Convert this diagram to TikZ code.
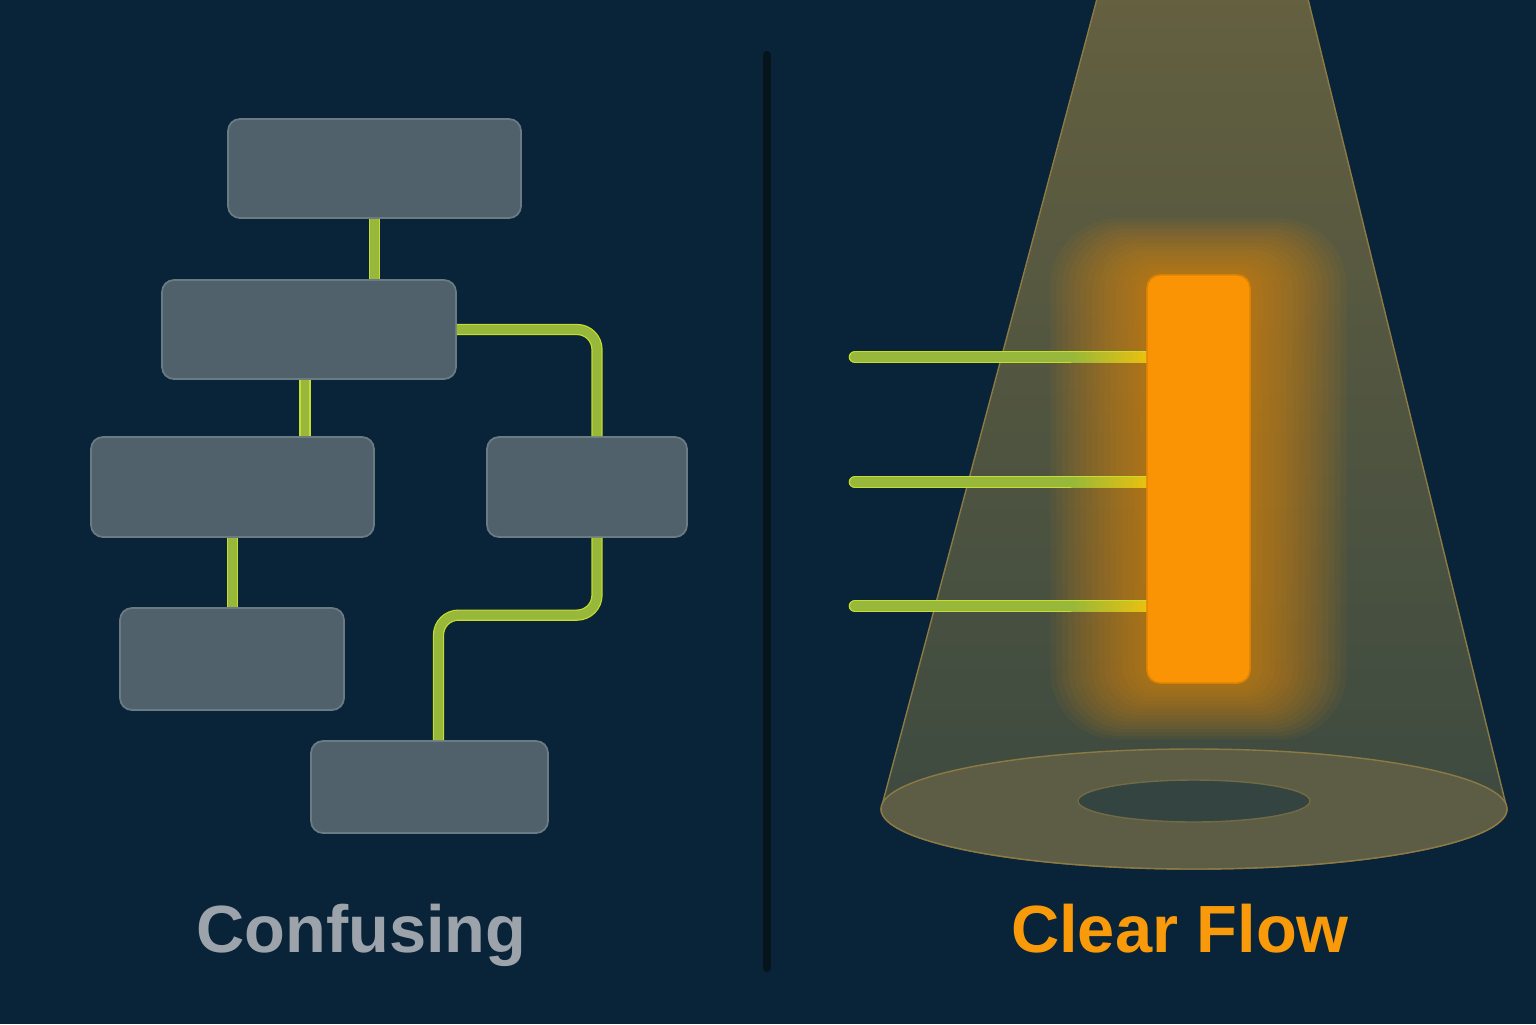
\documentclass[tikz,border=0pt]{standalone}
\usepackage{fontspec}
\setmainfont{Liberation Sans}
\usetikzlibrary{calc}
\definecolor{bg}{HTML}{092338}
\definecolor{boxfill}{HTML}{50616B}
\definecolor{boxedge}{HTML}{6B7B84}
\definecolor{wiregreen}{HTML}{97B83A}
\definecolor{wireedge}{HTML}{C6DC2E}
\definecolor{hot}{HTML}{FB9405}
\definecolor{hotedge}{HTML}{D98205}
\definecolor{divider}{HTML}{06141C}
\definecolor{beamtop}{HTML}{646040}
\definecolor{beambot}{HTML}{3B4940}
\definecolor{beamedge}{HTML}{8C7A45}
\definecolor{pool}{HTML}{5D5C45}
\definecolor{hole}{HTML}{344541}
\definecolor{dimtext}{HTML}{9DA3AB}
\definecolor{hottext}{HTML}{F99A0B}
\definecolor{glint}{HTML}{EAC010}
\tikzset{
  box/.style={draw=boxedge, fill=boxfill, line width=0.5pt, rounded corners=0.12cm, inner sep=0pt},
  wire/.style={draw=wireedge, line width=3.2pt, rounded corners=0.2cm, postaction={draw=wiregreen, line width=2.5pt}},
  ray/.style={draw=wireedge, line width=3.6pt, line cap=round, postaction={draw=wiregreen, line width=2.9pt}},
  heading/.style={font=\bfseries\fontsize{19}{22}\selectfont, anchor=base}
}
\begin{document}
\begin{tikzpicture}
  \fill[bg] (0,0) rectangle (15.36,-10.24);
  \useasboundingbox (0,0) rectangle (15.36,-10.24);

  % left: tangled chart
  \node[box, minimum width=2.93cm, minimum height=0.99cm] (top) at (3.745,-1.685) {};
  \node[box, minimum width=2.94cm, minimum height=0.99cm] (split) at (3.09,-3.295) {};
  \node[box, minimum width=2.83cm, minimum height=1.00cm] (lhs) at (2.325,-4.87) {};
  \node[box, minimum width=2.00cm, minimum height=1.00cm] (rhs) at (5.87,-4.87) {};
  \node[box, minimum width=2.24cm, minimum height=1.02cm] (leaf) at (2.32,-6.59) {};
  \node[box, minimum width=2.37cm, minimum height=0.92cm] (tail) at (4.295,-7.87) {};

  \draw[wire] (top.south) -- (top.south |- split.north);
  \draw[wire] ([xshift=-0.4mm]split.south) -- ([xshift=-0.4mm]split.south |- lhs.north);
  \draw[wire] (split.east) -| ([xshift=1mm]rhs.north);
  \draw[wire] (lhs.south) -- (lhs.south |- leaf.north);
  \draw[wire] ([xshift=1mm]rhs.south) |- ([xshift=0.9mm,yshift=12.5mm]tail.north) -- ([xshift=0.9mm]tail.north);

  \draw[divider, line width=2.3pt, line cap=round] (7.67,-0.55) -- (7.67,-9.68);

  % right: spotlight
  \draw[top color=beamtop, bottom color=beambot, draw=beamedge, line width=0.4pt]
    (10.98,0.05) -- (13.07,0.05) -- (15.07,-8.09)
    arc[start angle=0, end angle=-180, x radius=3.13, y radius=0.6] -- cycle;
  \draw[fill=pool, draw=beamedge, line width=0.4pt] (11.94,-8.09) ellipse (3.13cm and 0.6cm);
  \draw[fill=hole, draw=beamedge!70!hole, line width=0.4pt] (11.94,-8.01) ellipse (1.16cm and 0.21cm);

  \node[draw=hotedge, fill=hot, rounded corners=0.13cm, inner sep=0pt,
        minimum width=1.03cm, minimum height=4.08cm] (bar) at (11.985,-4.79) {};
  \foreach \g in {1,...,16}
    \fill[hot, fill opacity=0.05, rounded corners=0.2cm+\g*0.3mm]
      ($(bar.south west)+(-\g*0.06,-\g*0.035)$) rectangle ($(bar.north east)+(\g*0.06,\g*0.035)$);

  \foreach \y [count=\i] in {-3.57,-4.82,-6.06} {
    \coordinate (in\i) at (8.55,\y);
    \draw[ray] (in\i) -- (in\i -| bar.center);
    \shade[left color=wiregreen, right color=glint]
      ($(in\i -| bar.west)+(-0.75,-0.05)$) rectangle ($(in\i -| bar.west)+(0,0.05)$);
  }
  \node[draw=hotedge, fill=hot, rounded corners=0.13cm, inner sep=0pt,
        minimum width=1.03cm, minimum height=4.08cm] at (bar) {};

  \node[heading, text=dimtext] (bad) at (3.615,-9.52) {Confusing};
  \node[heading, text=hottext] (good) at (11.80,-9.52) {Clear Flow};
\end{tikzpicture}
\end{document}
